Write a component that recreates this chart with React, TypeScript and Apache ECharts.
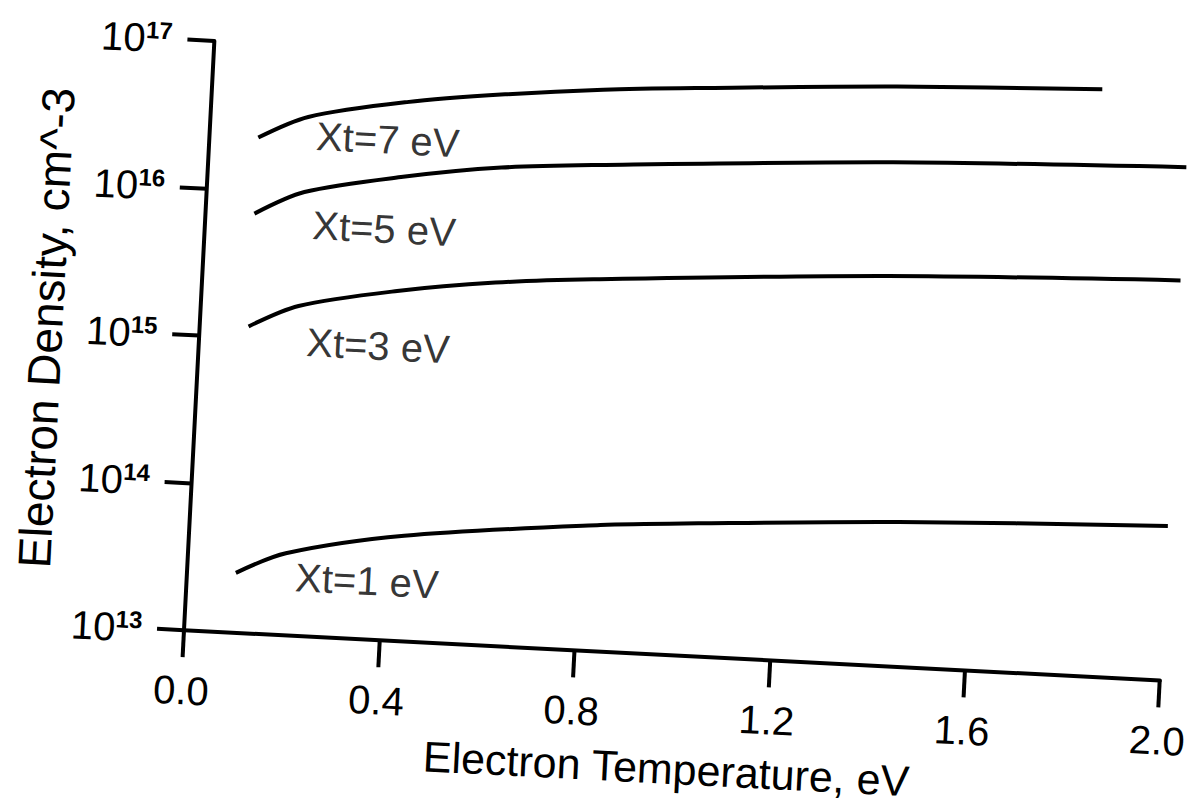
import React, { useEffect, useRef } from "react";
import * as echarts from "echarts";

// Electron temperature (eV) sample points, per curve
const temp7 = [0.1, 0.2, 0.4, 0.6, 0.8, 1.0, 1.4, 1.82];
const dens7 = [2.3e16, 3.3e16, 4.5e16, 5.5e16, 6.4e16, 7.1e16, 8.5e16, 9.6e16];

const temp5 = [0.1, 0.2, 0.4, 0.6, 0.8, 1.4, 2.0];
const dens5 = [7.0e15, 1.02e16, 1.4e16, 1.75e16, 1.97e16, 2.6e16, 3.05e16];

const temp3 = [0.1, 0.2, 0.4, 0.6, 0.8, 1.4, 2.0];
const dens3 = [1.2e15, 1.72e15, 2.35e15, 2.9e15, 3.3e15, 4.4e15, 5.2e15];

const temp1 = [0.1, 0.2, 0.44, 0.84, 1.04, 1.45, 2.0];
const dens1 = [2.55e13, 3.6e13, 5.2e13, 7.2e13, 8.0e13, 9.6e13, 1.12e14];

// curve labels (anchored at their left-middle point, in data coordinates)
const labelText = ["Xt=7 eV", "Xt=5 eV", "Xt=3 eV", "Xt=1 eV"];
const labelTemp = [0.218, 0.22, 0.22, 0.222];
const labelDens = [2.47e16, 6.14e15, 9.85e14, 2.5e13];

const xTicks = { min: 0, max: 2.0, interval: 0.4 };
const yRange = { min: 1e13, max: 1e17 };

const xTitle = "Electron Temperature, eV";
const yTitle = "Electron Density, cm^-3";

const FONT = "'Liberation Sans', Arial, sans-serif";

const zip = (xs: number[], ys: number[]) => xs.map((x, i) => [x, ys[i]]);

export default function App() {
  const ref = useRef<HTMLDivElement>(null);

  useEffect(() => {
    if (!ref.current) return;
    const chart = echarts.init(ref.current, undefined, { renderer: "svg" });
    const lineSeries = (data: number[][]) => ({
      type: "line",
      data,
      showSymbol: false,
      symbol: "none",
      smooth: 0.3,
      lineStyle: { color: "#000", width: 4 },
      silent: true,
    });
    chart.setOption({
      animation: false,
      backgroundColor: "#fff",
      grid: { left: 180, top: 40, right: 29, bottom: 178, containLabel: false },
      xAxis: {
        type: "value",
        min: xTicks.min,
        max: xTicks.max,
        interval: xTicks.interval,
        name: xTitle,
        nameLocation: "middle",
        nameGap: 92,
        nameTextStyle: { fontSize: 43, fontFamily: FONT, color: "#000" },
        axisLine: { show: true, onZero: false, lineStyle: { color: "#000", width: 4 } },
        axisTick: { show: true, inside: false, length: 27, lineStyle: { color: "#000", width: 4 } },
        axisLabel: {
          margin: 40,
          fontSize: 40,
          fontFamily: FONT,
          color: "#000",
          formatter: (v: number) => v.toFixed(1),
        },
        splitLine: { show: false },
      },
      yAxis: {
        type: "log",
        logBase: 10,
        min: yRange.min,
        max: yRange.max,
        splitNumber: 4,
        name: yTitle,
        nameLocation: "middle",
        nameGap: 130,
        nameTextStyle: { fontSize: 46, fontFamily: FONT, color: "#000" },
        axisLine: { show: true, lineStyle: { color: "#000", width: 4 } },
        axisTick: { show: true, inside: false, length: 27, lineStyle: { color: "#000", width: 4 } },
        axisLabel: {
          margin: 42,
          color: "#000",
          formatter: (v: number) => "{b|10}{s|" + Math.round(Math.log10(v)) + "}",
          rich: {
            b: { fontSize: 40, fontFamily: FONT, color: "#000" },
            s: { fontSize: 24, fontWeight: "bold", fontFamily: FONT, color: "#000", verticalAlign: "top" },
          },
        },
        splitLine: { show: false },
        minorTick: { show: false },
      },
      series: [
        lineSeries(zip(temp7, dens7)),
        lineSeries(zip(temp5, dens5)),
        lineSeries(zip(temp3, dens3)),
        lineSeries(zip(temp1, dens1)),
        {
          type: "scatter",
          symbolSize: 0,
          silent: true,
          data: labelText.map((t, i) => ({ name: t, value: [labelTemp[i], labelDens[i]] })),
          label: {
            show: true,
            position: "right",
            distance: 0,
            formatter: (p: any) => p.name,
            fontSize: 40,
            fontFamily: FONT,
            color: "#000",
          },
        },
      ],
    });
    return () => chart.dispose();
  }, []);

  return (
    <div
      style={{
        position: "absolute",
        left: 0,
        top: 0,
        width: 1192,
        height: 808,
        overflow: "hidden",
        background: "#fff",
      }}
    >
      <div
        ref={ref}
        style={{
          width: 1192,
          height: 808,
          transform: "rotate(2.95deg)",
          transformOrigin: "180px 630px",
        }}
      />
    </div>
  );
}
